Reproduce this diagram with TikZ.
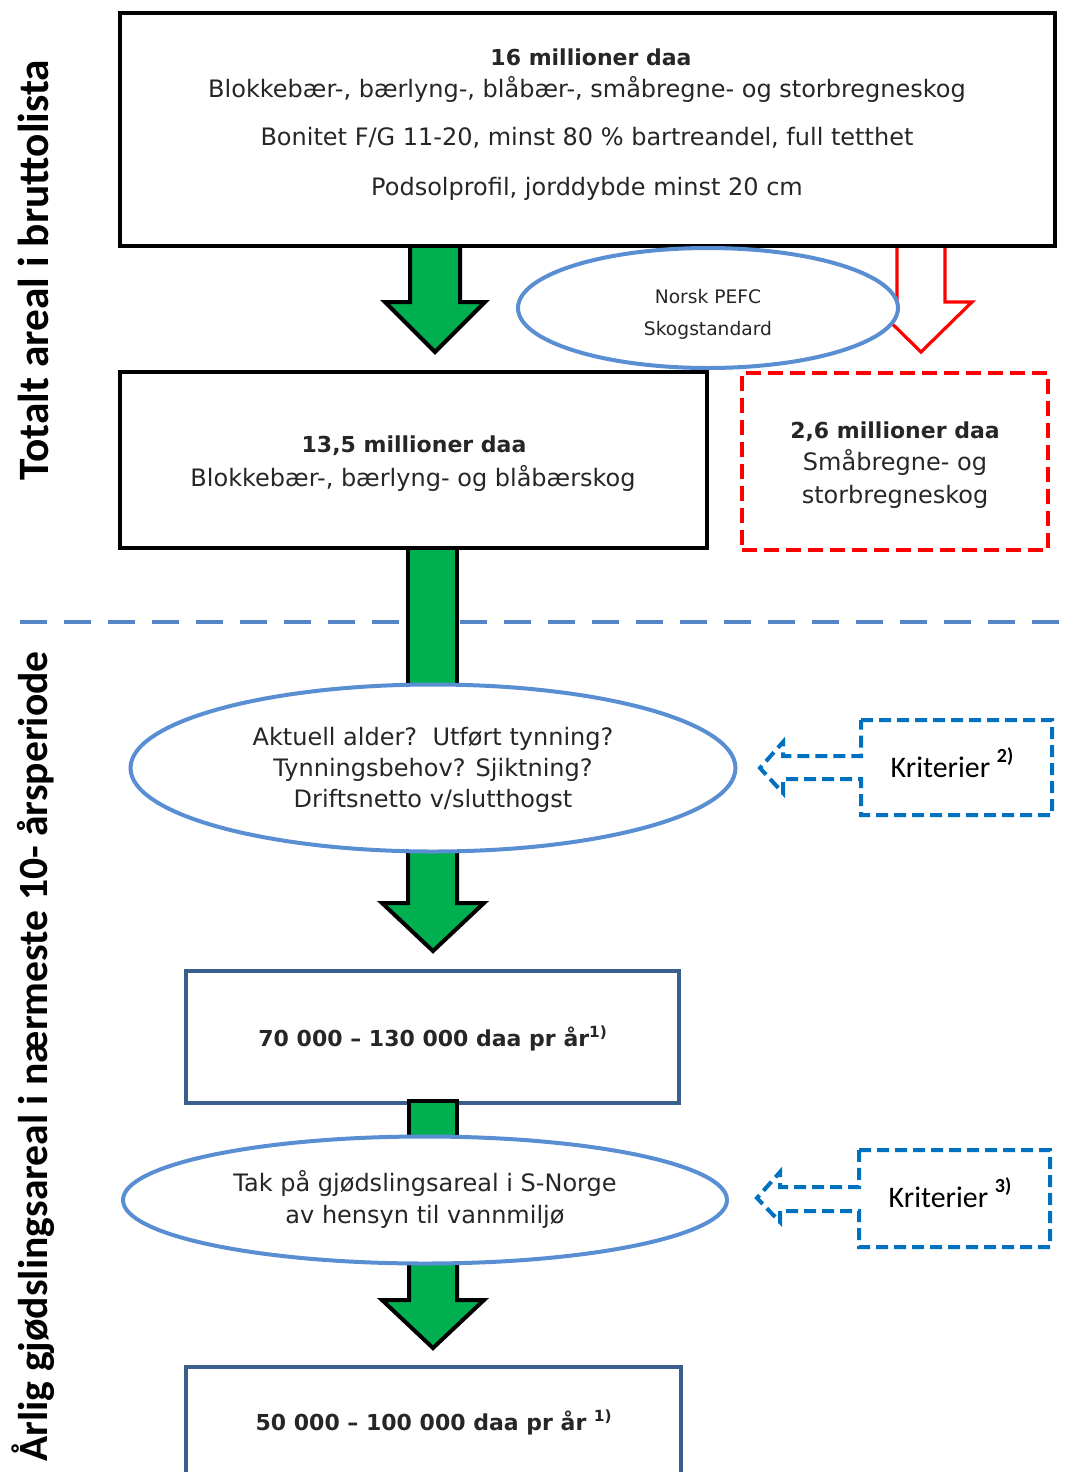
\documentclass[tikz,border=0pt]{standalone}
\usepackage{fontspec}
\setmainfont{DejaVu Sans}
\newfontfamily\calfont{Carlito}
\usetikzlibrary{shapes.geometric,fit}
\definecolor{agreen}{HTML}{00B050}
\definecolor{ellblue}{HTML}{5A8ED3}
\definecolor{lineblue}{HTML}{5585C5}
\definecolor{boxblue}{HTML}{3A5F8D}
\definecolor{kblue}{HTML}{0070C0}
\definecolor{txtgray}{HTML}{262626}
\newcommand\bt[1]{{\fontsize{16.5}{19}\selectfont\bfseries #1}}
\newcommand\ksup[1]{\raisebox{0.5em}{\fontsize{15}{15}\selectfont\bfseries #1}}
\tikzset{
  blackbox/.style={draw=black, line width=3pt, fill=white, inner sep=0pt},
  bluebox/.style={draw=boxblue, line width=3pt, fill=white, inner sep=0pt},
  reddash/.style={draw=red, line width=3.2pt, dash pattern=on 11pt off 5.5pt, inner sep=0pt},
  ell/.style={ellipse, draw=ellblue, line width=3pt, fill=white, inner sep=0pt},
  garrow/.style={fill=agreen, draw=black, line width=3pt, line join=miter},
  rarrow/.style={fill=white, draw=red, line width=2.4pt, line join=miter},
  karrow/.style={draw=kblue, line width=3pt, dash pattern=on 9pt off 4.5pt, fill=white},
  txt/.style={text=txtgray, inner sep=0pt, font=\fontsize{18}{21}\selectfont, anchor=base},
  stxt/.style={text=txtgray, inner sep=0pt, font=\fontsize{14}{17}\selectfont, anchor=base},
  ktxt/.style={text=black, inner sep=0pt, font=\calfont\fontsize{22.4}{25}\selectfont, anchor=base},
  side/.style={text=black, inner sep=0pt, font=\calfont\bfseries\fontsize{32.5}{35}\selectfont, rotate=90}
}
\begin{document}
\begin{tikzpicture}[x=0.75pt,y=-0.75pt]
\useasboundingbox (0,0) rectangle (1075,1472);
\clip (0,0) rectangle (1075,1472);

% dashed separator
\coordinate (sepL) at (20,622);
\coordinate (sepR) at (1080,622);
\draw[lineblue, line width=3pt, dash pattern=on 20pt off 13pt] (sepL) -- (sepR);

% arrow 1 and red arrow
\draw[garrow] (410,244) -- (410,302) -- (385,302) -- (435,352) -- (485,302) -- (460,302) -- (460,244) -- cycle;
\draw[rarrow] (897,246) -- (897,302) -- (870,302) -- (921,352) -- (972,302) -- (945,302) -- (945,246);

% top box
\node[blackbox, fit={(120,13) (1055,246)}] (b1) {};
\node[txt] (b1a) at (591,65) {\bt{16 millioner daa}};
\node[txt] (b1b) at (587,97) {Blokkebær-, bærlyng-, blåbær-, småbregne- og storbregneskog};
\node[txt] (b1c) at (587,145) {Bonitet F/G 11-20, minst 80 \% bartreandel, full tetthet};
\node[txt] (b1d) at (587,195) {Podsolprofil, jorddybde minst 20 cm};

\node[ell, minimum width=285pt, minimum height=90pt] (pefc) at (708,308) {};
\node[stxt] (pefca) at (708,303) {Norsk PEFC};
\node[stxt] (pefcb) at (708,335) {Skogstandard};

% arrow 2 shaft
\draw[garrow] (408,546) rectangle (457,700);

\node[blackbox, fit={(120,372) (707,548)}] (b2) {};
\node[txt] (b2a) at (414,452) {\bt{13,5 millioner daa}};
\node[txt] (b2b) at (413,486) {Blokkebær-, bærlyng- og blåbærskog};

\node[reddash, fit={(742,373) (1048,550)}] (b3) {};
\node[txt] (b3a) at (895,438) {\bt{2,6 millioner daa}};
\node[txt] (b3b) at (895,470) {Småbregne- og};
\node[txt] (b3c) at (895,503) {storbregneskog};

% arrow 3
\draw[garrow] (408,840) -- (408,903) -- (382,903) -- (433,951) -- (484,903) -- (457,903) -- (457,840) -- cycle;

\node[ell, minimum width=453.75pt, minimum height=125.25pt] (e2) at (433,768) {};
\node[txt] (e2a) at (433,745) {Aktuell alder?\ \ Utført tynning?};
\node[txt] (e2b) at (433,776) {Tynningsbehov? Sjiktning?};
\node[txt] (e2c) at (433,807) {Driftsnetto v/slutthogst};

% box 70 000
\node[bluebox, fit={(186,971) (679,1103)}] (b4) {};
\node[txt] (b4a) at (433,1046) {\bt{70 000 – 130 000 daa pr år\textsuperscript{1)}}};

% arrow 4 shaft
\draw[garrow] (409,1101) rectangle (457,1160);

% arrow 5
\draw[garrow] (409,1250) -- (409,1300) -- (382,1300) -- (433,1348) -- (484,1300) -- (457,1300) -- (457,1250) -- cycle;

\node[ell, minimum width=453pt, minimum height=95.25pt] (e3) at (425,1200) {};
\node[txt] (e3a) at (425,1191) {Tak på gjødslingsareal i S-Norge};
\node[txt] (e3b) at (425,1223) {av hensyn til vannmiljø};

\node[bluebox, fit={(186,1367) (681,1490)}] (b5) {};
\node[txt] (b5a) at (434,1430) {\bt{50 000 – 100 000 daa pr år \textsuperscript{1)}}};

% Kriterier 2)
\draw[karrow] (861,720) -- (1052,720) -- (1052,815) -- (861,815) -- (861,779) -- (783,779) -- (783,793) -- (760,768) -- (783,742) -- (783,756) -- (861,756) -- cycle;
\node[ktxt] (k2) at (952,777) {Kriterier \ksup{2)}};

% Kriterier 3)
\draw[karrow] (859,1150) -- (1050,1150) -- (1050,1247) -- (859,1247) -- (859,1211) -- (780,1211) -- (780,1222) -- (757,1198) -- (780,1172) -- (780,1187) -- (859,1187) -- cycle;
\node[ktxt] (k3) at (950,1207) {Kriterier \ksup{3)}};

% side labels
\node[side] (s1) at (33,270) {Totalt areal i bruttolista};
\node[side, anchor=east, font=\calfont\bfseries\fontsize{31.2}{35}\selectfont] (s2) at (33,651) {Årlig gjødslingsareal i nærmeste 10- årsperiode};
\end{tikzpicture}
\end{document}
